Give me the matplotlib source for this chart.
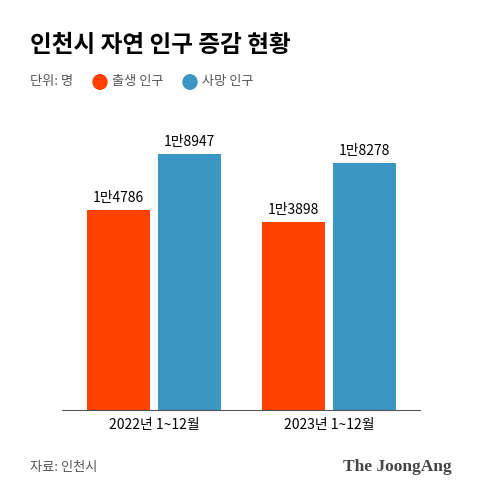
import matplotlib
matplotlib.use("Agg")
import matplotlib.pyplot as plt
import numpy as np

plt.rcParams['font.family'] = ['Noto Sans CJK KR', 'DejaVu Sans']

categories = ["2022년 1~12월", "2023년 1~12월"]
births = [14786, 13898]
deaths = [18947, 18278]
birth_labels = ["1만4786", "1만3898"]
death_labels = ["1만8947", "1만8278"]
c_birth = "#FF4100"
c_death = "#3A96C3"

fig = plt.figure(figsize=(4.8, 4.97), dpi=100)
ax = fig.add_axes([62/480, 1-410/497, 358/480, 280/497])
x = np.arange(len(categories))
w, off = 0.36, 0.203
ax.bar(x-off, births, w, color=c_birth)
ax.bar(x+off, deaths, w, color=c_death)
for xi, v, l in zip(x-off, births, birth_labels):
    ax.text(xi, v+400, l, ha='center', va='bottom', fontsize=10)
for xi, v, l in zip(x+off, deaths, death_labels):
    ax.text(xi, v+400, l, ha='center', va='bottom', fontsize=10)
ax.set_xlim(-0.526, 1.52)
ax.set_ylim(0, 20723)
ax.set_yticks([])
ax.set_xticks(x)
ax.set_xticklabels(categories, fontsize=10)
ax.tick_params(axis='x', length=0, pad=6)
for s in ['top', 'right', 'left']:
    ax.spines[s].set_visible(False)
ax.spines['bottom'].set_color('#555555')

fig.text(30/480, 1-45/497, "인천시 자연 인구 증감 현황", fontsize=17, fontweight='bold', va='center')
fig.text(30/480, 1-82/497, "단위: 명", fontsize=9.5, color='#555555', va='center')
fig.add_artist(plt.Circle((100/480, 1-82/497), 7/480, color=c_birth, transform=fig.transFigure))
fig.text(112/480, 1-82/497, "출생 인구", fontsize=9.5, color='#555555', va='center')
fig.add_artist(plt.Circle((190/480, 1-82/497), 7/480, color=c_death, transform=fig.transFigure))
fig.text(202/480, 1-82/497, "사망 인구", fontsize=9.5, color='#555555', va='center')
fig.text(30/480, 1-467/497, "자료: 인천시", fontsize=9.5, color='#555555', va='center')
fig.text(452/480, 1-467/497, "The JoongAng", fontsize=12.5, fontweight='bold', color='#444444',
         va='center', ha='right', family=['Liberation Serif', 'DejaVu Serif'])
fig.savefig("out.png", dpi=100)
